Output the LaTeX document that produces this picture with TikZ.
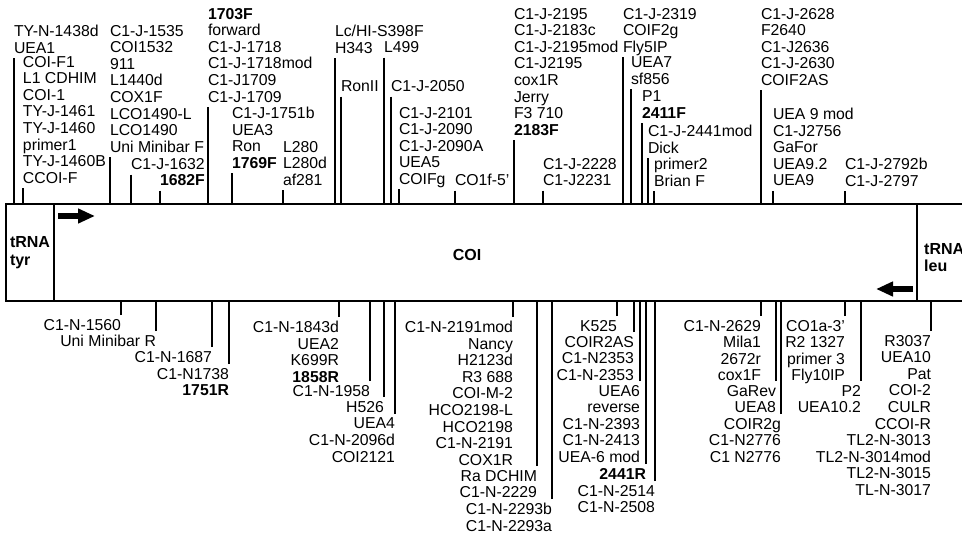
\documentclass[tikz,border=0pt]{standalone}
\usepackage{fontspec}
\setmainfont{Liberation Sans}
\usetikzlibrary{arrows.meta}
\begin{document}
\begin{tikzpicture}[x=1pt,y=-1pt,
 lbl/.style={inner sep=0pt,outer sep=0pt,font=\fontsize{15.8}{16.6}\selectfont,
             execute at begin node=\strut,execute at end node=\strut},
 fwd/.style={lbl,anchor=north west,align=left},
 rev/.style={lbl,anchor=north east,align=right},
 tick/.style={line width=1.2pt},
 gene/.style={draw,line width=1.3pt,inner sep=0pt,outer sep=0pt,minimum height=97pt},
 genetxt/.style={font=\bfseries\fontsize{16}{17.5}\selectfont},
 dirarrow/.style={line width=6pt,-{Triangle[length=17pt,width=14pt]}}]
\useasboundingbox (0,0) rectangle (962,538);
% gene map
\node[gene,minimum width=863pt] (coi) at (485.5,252.5) {};
\node[gene,genetxt,anchor=north east,minimum width=48pt,align=left] (tyr) at (coi.north west) {tRNA\\tyr};
\draw[line width=1.3pt] (coi.north east) -- ++(45,0) (coi.south east) -- ++(45,0);
\node[genetxt] (coilbl) at (467,255) {COI};
\node[genetxt,anchor=west,align=left,inner sep=0pt] (leu) at ([xshift=7pt,yshift=-5pt]coi.east) {tRNA\\leu};
\draw[dirarrow] ([xshift=4pt,yshift=-12pt]coi.north west) -- ++(37,0);
\draw[dirarrow] ([xshift=-4pt,yshift=12pt]coi.south east) -- ++(-37,0);
% forward primers (above)
\node[fwd] (fw1) at (14,25) {TY-N-1438d\\UEA1};
\node[fwd] (fw2) at (23,56) {COI-F1\\L1 CDHIM\\COI-1\\TY-J-1461\\TY-J-1460\\primer1\\TY-J-1460B\\CCOI-F};
\node[fwd] (fw3) at (110,25) {C1-J-1535\\COI1532\\911\\L1440d\\COX1F\\LCO1490-L\\LCO1490\\Uni Minibar F};
\node[fwd] (fw4) at (131,158) {C1-J-1632};
\node[fwd] (fw5) at (160,174) {\textbf{1682F}};
\node[fwd] (fw6) at (208,8) {\textbf{1703F}\\forward\\C1-J-1718\\C1-J-1718mod\\C1-J1709\\C1-J-1709};
\node[fwd] (fw7) at (232,107) {C1-J-1751b\\UEA3\\Ron\\\textbf{1769F}};
\node[fwd] (fw8) at (283,141) {L280\\L280d\\af281};
\node[fwd] (fw9) at (335,25) {Lc/HI-S398F\\H343};
\node[fwd] (fw10) at (341,80) {RonII};
\node[fwd] (fw11) at (384,41) {L499};
\node[fwd] (fw12) at (391,80) {C1-J-2050};
\node[fwd] (fw13) at (399,107) {C1-J-2101\\C1-J-2090\\C1-J-2090A\\UEA5\\COIFg};
\node[fwd] (fw14) at (455,174) {CO1f-5'};
\node[fwd] (fw15) at (514,8) {C1-J-2195\\C1-J-2183c\\C1-J-2195mod\\C1-J2195\\cox1R\\Jerry\\F3 710\\\textbf{2183F}};
\node[fwd] (fw16) at (543,158) {C1-J-2228\\C1-J2231};
\node[fwd] (fw17) at (623,8) {C1-J-2319\\COIF2g\\Fly5IP};
\node[fwd] (fw18) at (631,57) {UEA7\\sf856};
\node[fwd] (fw19) at (642,91) {P1\\\textbf{2411F}};
\node[fwd] (fw20) at (648,125) {C1-J-2441mod\\Dick};
\node[fwd] (fw21) at (654,158) {primer2\\Brian F};
\node[fwd] (fw22) at (761,8) {C1-J-2628\\F2640\\C1-J2636\\C1-J-2630\\COIF2AS};
\node[fwd] (fw23) at (773,108) {UEA 9 mod\\C1-J2756\\GaFor\\UEA9.2\\UEA9};
\node[fwd] (fw24) at (845,158) {C1-J-2792b\\C1-J-2797};
% reverse primers (below)
\node[rev] (rv1) at (121,319) {C1-N-1560};
\node[rev] (rv2) at (156,335) {Uni Minibar R};
\node[rev] (rv3) at (212,351) {C1-N-1687};
\node[rev] (rv4) at (229,368) {C1-N1738\\\textbf{1751R}};
\node[rev] (rv5) at (339,321) {C1-N-1843d\\UEA2\\K699R\\\textbf{1858R}};
\node[rev] (rv6) at (370,385) {C1-N-1958};
\node[rev] (rv7) at (384,401) {H526};
\node[rev] (rv8) at (395,418) {UEA4\\C1-N-2096d\\COI2121};
\node[rev] (rv9) at (513,321) {C1-N-2191mod\\Nancy\\H2123d\\R3 688\\COI-M-2\\HCO2198-L\\HCO2198\\C1-N-2191\\COX1R};
\node[rev] (rv10) at (537,470) {Ra DCHIM\\C1-N-2229};
\node[rev] (rv11) at (552,503) {C1-N-2293b\\C1-N-2293a};
\node[rev] (rv12) at (617,320) {K525};
\node[rev] (rv13) at (634,336) {COIR2AS\\C1-N2353\\C1-N-2353};
\node[rev] (rv14) at (640,385) {UEA6\\reverse\\C1-N-2393\\C1-N-2413\\UEA-6 mod};
\node[rev] (rv15) at (646,468) {\textbf{2441R}};
\node[rev] (rv16) at (655,485) {C1-N-2514\\C1-N-2508};
\node[rev] (rv17) at (761,320) {C1-N-2629\\Mila1\\2672r\\cox1F};
\node[rev] (rv18) at (776,385) {GaRev\\UEA8};
\node[rev] (rv19) at (781,418) {COIR2g\\C1-N2776\\C1 N2776};
\node[rev] (rv20) at (845,320) {CO1a-3'\\R2 1327\\primer 3\\Fly10IP};
\node[rev] (rv21) at (861,385) {P2\\UEA10.2};
\node[rev] (rv22) at (931,335) {R3037\\UEA10\\Pat\\COI-2\\CULR\\CCOI-R\\TL2-N-3013\\TL2-N-3014mod\\TL2-N-3015\\TL-N-3017};
% ticks
\draw[tick] (fw1.south west) -- (fw1.south west |- coi.north); \draw[tick] (fw2.south west) -- (fw2.south west |- coi.north);
\draw[tick] (fw3.south west) -- (fw3.south west |- coi.north); \draw[tick] (fw4.south west) -- (fw4.south west |- coi.north);
\draw[tick] (fw5.south west) -- (fw5.south west |- coi.north); \draw[tick] (fw6.south west) -- (fw6.south west |- coi.north);
\draw[tick] (fw7.south west) -- (fw7.south west |- coi.north); \draw[tick] (fw8.south west) -- (fw8.south west |- coi.north);
\draw[tick] (fw9.south west) -- (fw9.south west |- coi.north); \draw[tick] (fw10.south west) -- (fw10.south west |- coi.north);
\draw[tick] (fw11.south west) -- (fw11.south west |- coi.north); \draw[tick] (fw12.south west) -- (fw12.south west |- coi.north);
\draw[tick] (fw13.south west) -- (fw13.south west |- coi.north); \draw[tick] (fw14.south west) -- (fw14.south west |- coi.north);
\draw[tick] (fw15.south west) -- (fw15.south west |- coi.north); \draw[tick] (fw16.south west) -- (fw16.south west |- coi.north);
\draw[tick] (fw17.south west) -- (fw17.south west |- coi.north); \draw[tick] (fw18.south west) -- (fw18.south west |- coi.north);
\draw[tick] (fw19.south west) -- (fw19.south west |- coi.north); \draw[tick] (fw20.south west) -- (fw20.south west |- coi.north);
\draw[tick] (fw21.south west) -- (fw21.south west |- coi.north); \draw[tick] (fw22.south west) -- (fw22.south west |- coi.north);
\draw[tick] (fw23.south west) -- (fw23.south west |- coi.north); \draw[tick] (fw24.south west) -- (fw24.south west |- coi.north);
\draw[tick] ([yshift=4pt]rv1.north east) -- (rv1.north east |- coi.south); \draw[tick] ([yshift=4pt]rv2.north east) -- (rv2.north east |- coi.south);
\draw[tick] ([yshift=4pt]rv3.north east) -- (rv3.north east |- coi.south); \draw[tick] ([yshift=4pt]rv4.north east) -- (rv4.north east |- coi.south);
\draw[tick] ([yshift=4pt]rv5.north east) -- (rv5.north east |- coi.south); \draw[tick] ([yshift=4pt]rv6.north east) -- (rv6.north east |- coi.south);
\draw[tick] ([yshift=4pt]rv7.north east) -- (rv7.north east |- coi.south); \draw[tick] ([yshift=4pt]rv8.north east) -- (rv8.north east |- coi.south);
\draw[tick] ([yshift=4pt]rv9.north east) -- (rv9.north east |- coi.south); \draw[tick] ([yshift=4pt]rv10.north east) -- (rv10.north east |- coi.south);
\draw[tick] ([yshift=4pt]rv11.north east) -- (rv11.north east |- coi.south); \draw[tick] ([yshift=4pt]rv12.north east) -- (rv12.north east |- coi.south);
\draw[tick] ([yshift=4pt]rv13.north east) -- (rv13.north east |- coi.south); \draw[tick] ([yshift=4pt]rv14.north east) -- (rv14.north east |- coi.south);
\draw[tick] ([yshift=4pt]rv15.north east) -- (rv15.north east |- coi.south); \draw[tick] ([yshift=4pt]rv16.north east) -- (rv16.north east |- coi.south);
\draw[tick] ([yshift=4pt]rv17.north east) -- (rv17.north east |- coi.south); \draw[tick] ([yshift=4pt]rv18.north east) -- (rv18.north east |- coi.south);
\draw[tick] ([yshift=4pt]rv19.north east) -- (rv19.north east |- coi.south); \draw[tick] ([yshift=4pt]rv20.north east) -- (rv20.north east |- coi.south);
\draw[tick] ([yshift=4pt]rv21.north east) -- (rv21.north east |- coi.south); \draw[tick] ([yshift=4pt]rv22.north east) -- (rv22.north east |- coi.south);
\end{tikzpicture}
\end{document}
